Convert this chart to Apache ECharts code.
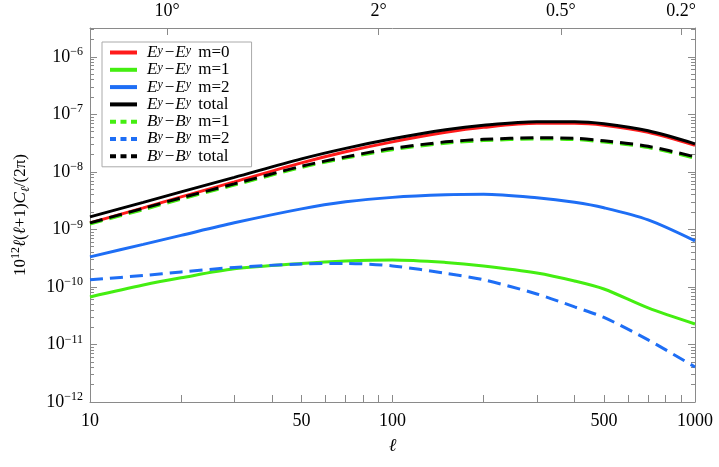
<!DOCTYPE html>
<html>
<head>
<meta charset="utf-8">
<script src="https://cdn.jsdelivr.net/npm/echarts@6/dist/echarts.min.js"></script>
<style>
  html, body { margin: 0; padding: 0; background: #fff; }
  #chart { width: 719px; height: 467px; }
</style>
</head>
<body>
<div id="chart"></div>
<script>
// multipole samples
const ell = [10, 15, 20, 30, 50, 70, 100, 150, 200, 300, 400, 500, 700, 1000];

// E^y - E^y
const eeM0 = [1.30e-9, 2.37e-9, 3.67e-9, 6.70e-9, 1.43e-8, 2.23e-8, 3.32e-8, 4.86e-8, 5.94e-8, 6.97e-8, 6.97e-8, 6.44e-8, 4.86e-8, 2.89e-8];
const eeM1 = [6.70e-11, 1.08e-10, 1.44e-10, 2.06e-10, 2.56e-10, 2.83e-10, 2.95e-10, 2.67e-10, 2.32e-10, 1.75e-10, 1.27e-10, 9.2e-11, 4.31e-11, 2.27e-11];
const eeM2 = [3.33e-10, 5.48e-10, 7.86e-10, 1.30e-9, 2.27e-9, 3.01e-9, 3.60e-9, 3.98e-9, 4.06e-9, 3.53e-9, 2.95e-9, 2.37e-9, 1.46e-9, 6.31e-10];
const eeTotal = [1.65e-9, 2.95e-9, 4.49e-9, 8.02e-9, 1.68e-8, 2.56e-8, 3.75e-8, 5.38e-8, 6.44e-8, 7.41e-8, 7.41e-8, 6.84e-8, 5.16e-8, 3.07e-8];

// B^y - B^y
const bbM1 = [1.24e-9, 2.20e-9, 3.35e-9, 5.87e-9, 1.19e-8, 1.73e-8, 2.43e-8, 3.15e-8, 3.49e-8, 3.71e-8, 3.64e-8, 3.29e-8, 2.64e-8, 1.73e-8];
const bbM2 = [1.33e-10, 1.58e-10, 1.82e-10, 2.18e-10, 2.51e-10, 2.56e-10, 2.32e-10, 1.72e-10, 1.33e-10, 7.55e-11, 4.49e-11, 2.95e-11, 1.20e-11, 4.06e-12];
const bbTotal = [1.30e-9, 2.32e-9, 3.53e-9, 6.18e-9, 1.25e-8, 1.82e-8, 2.56e-8, 3.32e-8, 3.67e-8, 3.90e-8, 3.83e-8, 3.46e-8, 2.78e-8, 1.82e-8];

// axis ticks
const xLabelVals = [10, 50, 100, 500, 1000];
const xTickVals = [10, 20, 30, 40, 50, 60, 70, 80, 90, 100, 200, 300, 400, 500, 600, 700, 800, 900, 1000];
const angleLabels = [10, 2, 0.5, 0.2];
const yMajorVals = [1e-12, 1e-11, 1e-10, 1e-9, 1e-8, 1e-7, 1e-6];
const yMinorVals = [];
for (let e = -12; e <= -6; e++) {
  for (let m = 2; m <= 9; m++) {
    const v = m * Math.pow(10, e);
    if (v < 3.1e-6) yMinorVals.push(v);
  }
}

const FONT = "'Liberation Serif', 'DejaVu Serif', serif";
const RED = "#ff1a1a";
const GREEN = "#44ee11";
const BLUE = "#1e6ef5";
const BLACK = "#000000";
const AXIS_GRAY = "#8a8a8a";

function pairs(ys) {
  return ell.map((l, i) => [l, ys[i]]);
}

const seriesDefs = [
  { name: "E m=0", data: eeM0, color: RED, dashed: false },
  { name: "E m=1", data: eeM1, color: GREEN, dashed: false },
  { name: "E m=2", data: eeM2, color: BLUE, dashed: false },
  { name: "E total", data: eeTotal, color: BLACK, dashed: false },
  { name: "B m=1", data: bbM1, color: GREEN, dashed: true },
  { name: "B m=2", data: bbM2, color: BLUE, dashed: true },
  { name: "B total", data: bbTotal, color: BLACK, dashed: true },
];

const legendText = {
  "E m=0": "{i|E}{s|y}{m|−}{i|E}{s|y}{t| m=0}",
  "E m=1": "{i|E}{s|y}{m|−}{i|E}{s|y}{t| m=1}",
  "E m=2": "{i|E}{s|y}{m|−}{i|E}{s|y}{t| m=2}",
  "E total": "{i|E}{s|y}{m|−}{i|E}{s|y}{t| total}",
  "B m=1": "{i|B}{s|y}{m|−}{i|B}{s|y}{t| m=1}",
  "B m=2": "{i|B}{s|y}{m|−}{i|B}{s|y}{t| m=2}",
  "B total": "{i|B}{s|y}{m|−}{i|B}{s|y}{t| total}",
};

function yAxisBase(position, ticks, len, showLine, showLabel) {
  return {
    type: "log",
    logBase: 10,
    position: position,
    min: 1e-12,
    max: 3.162e-6,
    splitLine: { show: false },
    axisLine: { show: showLine, lineStyle: { color: AXIS_GRAY, width: 1 } },
    axisTick: {
      show: true,
      inside: true,
      length: len,
      customValues: ticks,
      lineStyle: { color: AXIS_GRAY, width: 1 },
    },
    axisLabel: {
      show: showLabel,
      customValues: yMajorVals,
      margin: 7,
      fontFamily: FONT,
      color: "#000",
      formatter: (v) => {
        const e = Math.round(Math.log10(v));
        return "{b|10}{s|" + (e < 0 ? "−" + -e : e) + "}";
      },
      rich: {
        b: { fontFamily: FONT, fontSize: 18, color: "#000", lineHeight: 22 },
        s: { fontFamily: FONT, fontSize: 12, color: "#000", verticalAlign: "top", lineHeight: 12 },
      },
    },
  };
}

const option = {
  animation: false,
  backgroundColor: "#fff",
  textStyle: { fontFamily: FONT },
  grid: { left: 90, right: 24, top: 28, bottom: 65, containLabel: false },
  legend: {
    orient: "vertical",
    left: 102,
    top: 42,
    padding: [2, 22, 2, 6],
    itemGap: 0.3,
    itemWidth: 27,
    itemHeight: 4,
    backgroundColor: "#fff",
    borderColor: "#aaaaaa",
    borderWidth: 1,
    borderRadius: 0,
    itemStyle: { opacity: 0 },
    lineStyle: { width: 4 },
    data: seriesDefs.map((s) => ({
      name: s.name,
      lineStyle: { width: 4, color: s.color, type: s.dashed ? [6, 4.5] : "solid" },
    })),
    formatter: (name) => legendText[name],
    textStyle: {
      fontFamily: FONT,
      fontSize: 17,
      color: "#000",
      padding: [0, 0, 0, 5],
      rich: {
        i: { fontFamily: FONT, fontSize: 17, fontStyle: "italic", color: "#000", lineHeight: 16 },
        m: { fontFamily: FONT, fontSize: 17, color: "#000", lineHeight: 16, padding: [0, 1, 0, 2] },
        t: { fontFamily: FONT, fontSize: 17, color: "#000", lineHeight: 16, padding: [0, 0, 0, 3] },
        s: { fontFamily: FONT, fontSize: 12, fontStyle: "italic", color: "#000", verticalAlign: "top", lineHeight: 11 },
      },
    },
  },
  xAxis: [
    {
      type: "log",
      logBase: 10,
      min: 10,
      max: 1000,
      position: "bottom",
      name: "ℓ",
      nameLocation: "middle",
      nameGap: 35,
      nameTextStyle: { fontFamily: FONT, fontSize: 18, fontStyle: "italic", color: "#000" },
      splitLine: { show: false },
      axisLine: { lineStyle: { color: AXIS_GRAY, width: 1 } },
      axisTick: {
        inside: true,
        length: 7,
        customValues: xTickVals,
        lineStyle: { color: AXIS_GRAY, width: 1 },
      },
      axisLabel: {
        customValues: xLabelVals,
        margin: 10,
        fontFamily: FONT,
        fontSize: 18,
        color: "#000",
        formatter: (v) => String(Math.round(v)),
      },
    },
    {
      type: "value",
      min: 1,
      max: 3,
      position: "top",
      splitLine: { show: false },
      axisLine: { lineStyle: { color: AXIS_GRAY, width: 1 } },
      axisTick: {
        inside: true,
        length: 7,
        customValues: angleLabels.map((a) => Math.log10(180 / a)),
        lineStyle: { color: AXIS_GRAY, width: 1 },
      },
      axisLabel: {
        customValues: angleLabels.map((a) => Math.log10(180 / a)),
        margin: 8,
        fontFamily: FONT,
        fontSize: 18,
        color: "#000",
        formatter: (v) => {
          const a = 180 / Math.pow(10, v);
          return Math.round(a * 100) / 100 + "°";
        },
      },
    },
  ],
  yAxis: [
    Object.assign(yAxisBase("left", yMajorVals, 7, true, true), {
      name: "{n|10}{s|12}{i|ℓ}{n|(}{i|ℓ}{n|+1)}{i|C}{b|ℓ}{n|/(2π)}",
      nameLocation: "middle",
      nameGap: 58,
      nameRotate: 90,
      nameTextStyle: {
        fontFamily: FONT,
        color: "#000",
        rich: {
          n: { fontFamily: FONT, fontSize: 17, color: "#000", lineHeight: 22 },
          i: { fontFamily: FONT, fontSize: 17, fontStyle: "italic", color: "#000", lineHeight: 22 },
          s: { fontFamily: FONT, fontSize: 12, color: "#000", verticalAlign: "top", lineHeight: 11 },
          b: { fontFamily: FONT, fontSize: 12, fontStyle: "italic", color: "#000", verticalAlign: "bottom", lineHeight: 11 },
        },
      },
    }),
    yAxisBase("left", yMinorVals, 4, false, false),
    yAxisBase("right", yMajorVals, 7, true, false),
    yAxisBase("right", yMinorVals, 4, false, false),
  ],
  series: seriesDefs.map((s) => ({
    name: s.name,
    type: "line",
    xAxisIndex: 0,
    yAxisIndex: 0,
    data: pairs(s.data),
    smooth: 0.3,
    symbol: "none",
    showSymbol: false,
    lineStyle: { color: s.color, width: 3, type: s.dashed ? [13, 7] : "solid" },
    itemStyle: { color: s.color },
    emphasis: { disabled: true },
  })),
};

const chart = echarts.init(document.getElementById("chart"));
chart.setOption(option);
</script>
</body>
</html>
